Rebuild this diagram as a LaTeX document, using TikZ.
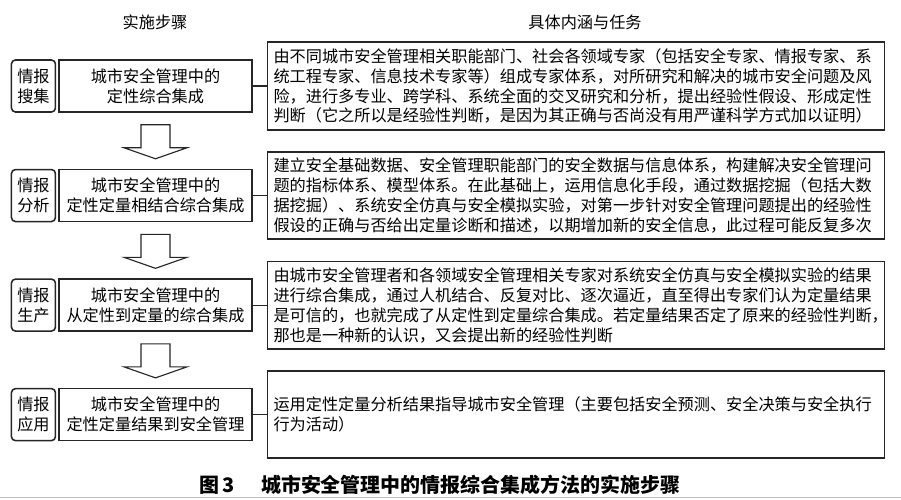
\documentclass[tikz,border=0pt]{standalone}
\usepackage{fontspec}
\setmainfont{Noto Sans CJK SC}
\usetikzlibrary{positioning, calc}

\begin{document}
\begin{tikzpicture}[
  font=\fontsize{11.5}{14.2}\selectfont,
  stage/.style = {draw=black!85, line width=1.1pt, rounded corners=0.1cm, minimum width=1.1cm, minimum height=1.3cm, inner sep=1pt, align=center},
  method/.style = {draw=black!85, line width=1.1pt, minimum width=4.825cm, minimum height=1.3cm, align=center},
  task/.style = {draw=black!85, line width=1.1pt, text width=15.125cm, inner sep=0.15cm, minimum height=2.175cm, align=left},
  hollow arrow/.style = {draw=black!85, line width=0.8pt, fill=white}
  ]
  \useasboundingbox (0,0) rectangle (22.525,-12.475);
  \node (head1) at (3.875,-0.55) {实施步骤};
  \node (head2) at (14.625,-0.55) {具体内涵与任务};
  \node[method] (m1) at (3.8875,-2.15) {城市安全管理中的\\定性综合集成};
  \node[method, below=1.4cm of m1] (m2) {城市安全管理中的\\定性定量相结合综合集成};
  \node[method, below=1.4cm of m2] (m3) {城市安全管理中的\\从定性到定量的综合集成};
  \node[method, below=1.4cm of m3] (m4) {城市安全管理中的\\定性定量结果到安全管理};
  \node[stage, left=0.05cm of m1] (s1) {情报\\搜集};
  \node[stage, left=0.05cm of m2] (s2) {情报\\分析};
  \node[stage, left=0.05cm of m3] (s3) {情报\\生产};
  \node[stage, left=0.05cm of m4] (s4) {情报\\应用};
  \node[task, right=0.35cm of m1] (t1) {由不同城市安全管理相关职能部门、社会各领域专家（包括安全专家、情报专家、系\\统工程专家、信息技术专家等）组成专家体系，对所研究和解决的城市安全问题及风\\险，进行多专业、跨学科、系统全面的交叉研究和分析，提出经验性假设、形成定性\\判断（它之所以是经验性判断，是因为其正确与否尚没有用严谨科学方式加以证明）};
  \node[task, right=0.35cm of m2] (t2) {建立安全基础数据、安全管理职能部门的安全数据与信息体系，构建解决安全管理问\\题的指标体系、模型体系。在此基础上，运用信息化手段，通过数据挖掘（包括大数\\据挖掘）、系统安全仿真与安全模拟实验，对第一步针对安全管理问题提出的经验性\\假设的正确与否给出定量诊断和描述，以期增加新的安全信息，此过程可能反复多次};
  \node[task, right=0.35cm of m3] (t3) {由城市安全管理者和各领域安全管理相关专家对系统安全仿真与安全模拟实验的结果\\进行综合集成，通过人机结合、反复对比、逐次逼近，直至得出专家们认为定量结果\\是可信的，也就完成了从定性到定量综合集成。若定量结果否定了原来的经验性判断，\\那也是一种新的认识，又会提出新的经验性判断};
  \node[task, right=0.35cm of m4] (t4) {运用定性定量分析结果指导城市安全管理（主要包括安全预测、安全决策与安全执行\\行为活动）};
  \foreach \i in {1,...,4} \draw[draw=black!85, line width=0.8pt] (m\i) -- (t\i);
  \foreach \a in {1,2,3}
    \draw[hollow arrow] ($(m\a.south)+(-0.3625,-0.3)$) -- ++(0,-0.575) -- ++(-0.425,0) -- ++(0.7875,-0.275) -- ++(0.7875,0.275) -- ++(-0.425,0) -- ++(0,0.575) -- cycle;
  \node[font=\fontsize{14.2}{16}\selectfont\bfseries] (caption) at (11,-12.125) {图\,3\hspace{1.3em}城市安全管理中的情报综合集成方法的实施步骤};
  \draw[gray!50] (0,-12.425) -- (22.525,-12.425);
\end{tikzpicture}
\end{document}
